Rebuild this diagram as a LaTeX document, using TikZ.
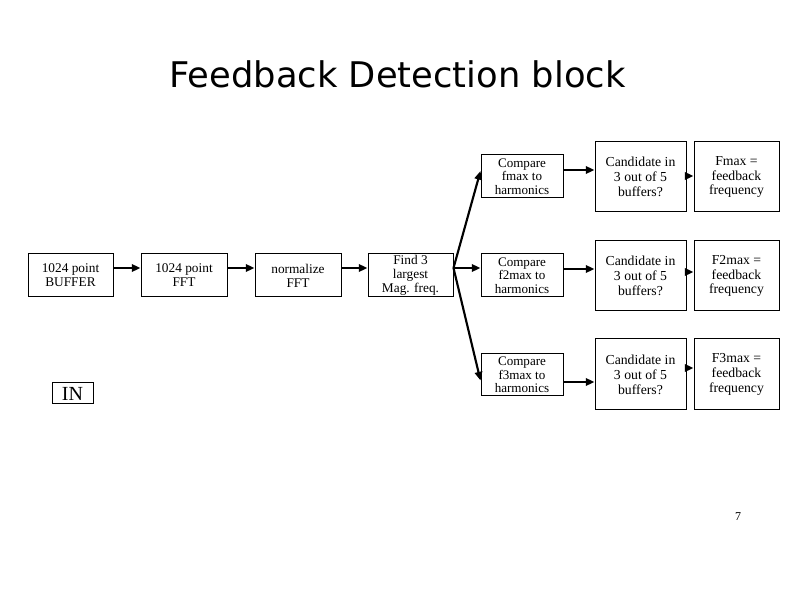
\documentclass[tikz,border=0pt]{standalone}
\usepackage{fontspec}
\setmainfont{Liberation Serif}
\newfontfamily\titlefont{DejaVu Sans}
\usetikzlibrary{arrows.meta,calc}
\begin{document}
\begin{tikzpicture}[x=0.75pt,y=-0.75pt,
  box/.style={draw=black,line width=0.75pt,align=center,inner sep=0pt,
    font=\fontsize{10pt}{10.5pt}\selectfont},
  cmpbox/.style={box,minimum width=61.5pt,minimum height=32.25pt,
    font=\fontsize{9.8pt}{10pt}\selectfont},
  candbox/.style={box,minimum height=52.5pt,font=\fontsize{10.3pt}{11.2pt}\selectfont},
  chainbox/.style={box,minimum height=32.25pt},
  conn/.style={line width=1.6pt,-{Triangle[length=6.5pt,width=5.5pt]}}]
\useasboundingbox[fill=white] (0,0) rectangle (794,595);
\node[font=\titlefont\fontsize{26.5pt}{30pt}\selectfont,anchor=base,inner sep=0pt] (title) at (397.5,88) {Feedback Detection block};
\node[chainbox,minimum width=63.75pt] (buf) at (70.5,275.5) {1024 point\\BUFFER};
\node[chainbox,minimum width=64.5pt] (fft) at (184,275.5) {1024 point\\FFT};
\node[chainbox,minimum width=64.5pt] (norm) at (298,275.5) {normalize\\FFT};
\node[chainbox,minimum width=63.75pt] (find) at (410.5,275.5) {Find 3\\largest\\Mag. freq.};
\node[cmpbox] (cmp1) at (522,176.5) {Compare\\fmax to\\harmonics};
\node[cmpbox] (cmp2) at (522,275.5) {Compare\\f2max to\\harmonics};
\node[cmpbox,minimum height=31.5pt] (cmp3) at (522,375) {Compare\\f3max to\\harmonics};
\node[candbox,minimum width=68.25pt] (cand1) at (640.5,177) {Candidate in\\3 out of 5\\buffers?};
\node[candbox,minimum width=68.25pt] (cand2) at (640.5,276) {Candidate in\\3 out of 5\\buffers?};
\node[candbox,minimum width=68.25pt,minimum height=53.25pt] (cand3) at (640.5,374.5) {Candidate in\\3 out of 5\\buffers?};
\node[candbox,minimum width=63.75pt] (f1) at (736.5,177) {Fmax =\\feedback\\frequency};
\node[candbox,minimum width=63.75pt] (f2) at (736.5,276) {F2max =\\feedback\\frequency};
\node[candbox,minimum width=63.75pt,minimum height=53.25pt] (f3) at (736.5,374.5) {F3max =\\feedback\\frequency};
\node[box,minimum width=30.75pt,minimum height=15.75pt,font=\fontsize{15pt}{15pt}\selectfont] (in) at (72.5,393.5) {IN};
\node[font=\fontsize{9pt}{9pt}\selectfont,inner sep=0pt] (pg) at (738,517) {7};
\draw[conn] ($(buf.east)+(0,-7.5)$) -- ($(fft.west)+(0,-7.5)$);
\draw[conn] ($(fft.east)+(0,-7.5)$) -- ($(norm.west)+(0,-7.5)$);
\draw[conn] ($(norm.east)+(0,-7.5)$) -- ($(find.west)+(0,-7.5)$);
\coordinate (fo) at ($(find.east)+(0,-7.5)$);
\draw[conn] (fo) -- ($(cmp1.west)+(0,-5.5)$);
\draw[conn] (fo) -- ($(cmp2.west)+(0,-7.5)$);
\draw[conn] (fo) -- ($(cmp3.west)+(0,5.5)$);
\draw[conn] ($(cmp1.east)+(0,-6.5)$) -- ($(cand1.west)+(0,-7)$);
\draw[conn] ($(cmp2.east)+(0,-6.5)$) -- ($(cand2.west)+(0,-7)$);
\draw[conn] ($(cmp3.east)+(0,7)$) -- ($(cand3.west)+(0,7.5)$);
\draw[conn] ($(cand1.east)+(0,-1)$) -- ($(f1.west)+(0,-1)$);
\draw[conn] ($(cand2.east)+(0,-4)$) -- ($(f2.west)+(0,-4)$);
\draw[conn] ($(cand3.east)+(0,-6.5)$) -- ($(f3.west)+(0,-6.5)$);
\end{tikzpicture}
\end{document}
